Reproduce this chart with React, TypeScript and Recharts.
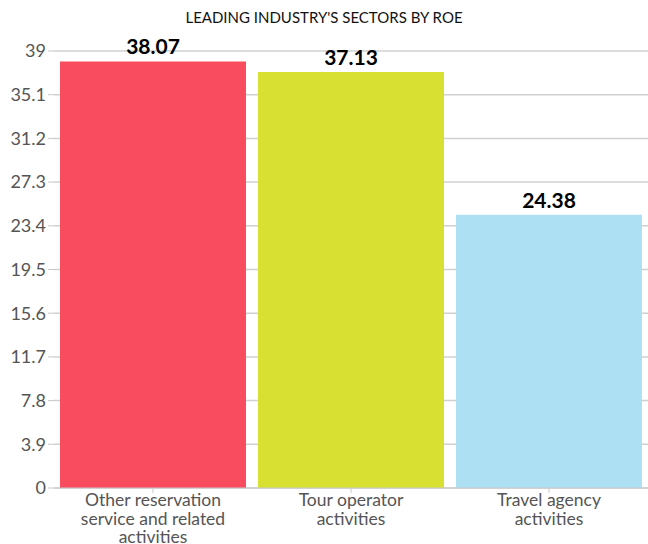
import React from "react";
import { BarChart, Bar, XAxis, YAxis, CartesianGrid, Cell, LabelList } from "recharts";

const categories = [
  "Other reservation service and related activities",
  "Tour operator activities",
  "Travel agency activities",
];
const tickLines = [
  ["Other reservation", "service and related", "activities"],
  ["Tour operator", "activities"],
  ["Travel agency", "activities"],
];
const roeValues = [38.07, 37.13, 24.38];
const barColors = ["#F94C5E", "#D8E032", "#ADE0F2"];
const yTicks = [0, 3.9, 7.8, 11.7, 15.6, 19.5, 23.4, 27.3, 31.2, 35.1, 39];
const title = "LEADING INDUSTRY'S SECTORS BY ROE";

const data = categories.map((name, i) => ({ name, value: roeValues[i], idx: i }));

const FONT = "Lato, 'Open Sans', sans-serif";

const XTick = (props: any) => {
  const { x, y, index } = props;
  const lines = tickLines[index] || [];
  return (
    <g transform={`translate(${x},${y})`}>
      {lines.map((l: string, i: number) => (
        <text
          key={i}
          x={0}
          y={11 + i * 18.5}
          textAnchor="middle"
          fill="#555"
          fontSize={17.5}
          fontFamily={FONT}
        >
          {l}
        </text>
      ))}
    </g>
  );
};

export default function App() {
  return (
    <div style={{ position: "absolute", left: 0, top: 0, width: 648, height: 544, background: "#fff" }}>
      <div
        style={{
          position: "absolute",
          top: 8,
          left: 0,
          width: 648,
          textAlign: "center",
          fontFamily: FONT,
          fontSize: 15,
          color: "#111",
        }}
      >
        {title}
      </div>
      <BarChart
        width={648}
        height={544}
        data={data}
        margin={{ top: 51, right: 0, bottom: 0, left: 0 }}
        barCategoryGap={6}
      >
        <CartesianGrid vertical={false} stroke="#d0d0d0" strokeWidth={1.5} />
        <XAxis
          dataKey="name"
          height={56}
          tick={<XTick />}
          interval={0}
          stroke="#c8c8c8"
          tickLine={{ stroke: "#c8c8c8" }}
          tickSize={5}
        />
        <YAxis
          width={54}
          domain={[0, 39]}
          ticks={yTicks}
          interval={0}
          axisLine={false}
          tickLine={{ stroke: "#c8c8c8" }}
          tickSize={6}
          tickMargin={2}
          tick={{ fill: "#555", fontSize: 18, fontFamily: FONT }}
        />
        <Bar dataKey="value" isAnimationActive={false}>
          {data.map((d, i) => (
            <Cell key={i} fill={barColors[i]} />
          ))}
          <LabelList
            dataKey="value"
            position="top"
            offset={7}
            style={{ fill: "#000", fontSize: 21, fontWeight: 700, fontFamily: FONT }}
          />
        </Bar>
      </BarChart>
    </div>
  );
}
